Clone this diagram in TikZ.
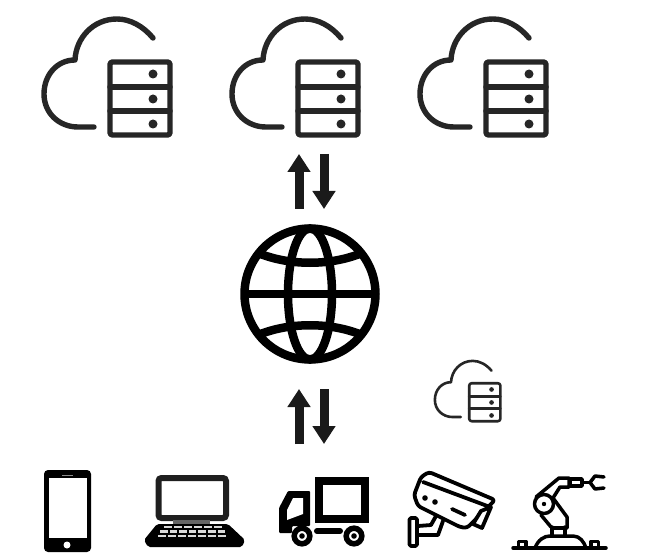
\documentclass[tikz,border=0pt]{standalone}
\usetikzlibrary{arrows.meta}
\definecolor{iconink}{HTML}{262626}
\definecolor{arrowink}{HTML}{1A1A1A}
\tikzset{
  thinicon/.style={draw=black,line join=round,line cap=round},
  arrowup/.style={line width=9pt,draw=arrowink,-{Triangle[length=18pt,width=22pt]}},
  globeline/.style={draw=black,line width=8.5pt},
  keycap/.style={fill=black!15,draw=none}
}
\newcommand{\cloudicon}[4]{%
  \begin{scope}[shift={(#1,#2)},xscale=#3,yscale=#3,
      every path/.append style={draw=iconink,line width=#4,line cap=round,line join=round}]
    \draw (153,38) .. controls (143,26) and (130,19) .. (117,19)
       .. controls (93,19) and (76,38) .. (75,60)
       .. controls (57,60) and (44,75) .. (44,94)
       .. controls (44,113) and (59,127) .. (78,127) -- (94,127);
    \draw[rounded corners=2.5] (110,62) rectangle (170,135);
    \draw (110,87) -- (170,87);
    \draw (110,111) -- (170,111);
    \fill[iconink,draw=none] (153,74) circle (4.5);
    \fill[iconink,draw=none] (153,99) circle (4.5);
    \fill[iconink,draw=none] (153,124) circle (4.5);
  \end{scope}}
\newcommand{\arrowpair}[1]{%
  \begin{scope}[shift={(0,#1)}]
    \coordinate (ua) at (299,209); \coordinate (ub) at (299,154);
    \coordinate (da) at (324,154); \coordinate (db) at (324,209);
    \draw[arrowup] (ua) -- (ub);
    \draw[arrowup] (da) -- (db);
  \end{scope}}
\begin{document}
\begin{tikzpicture}[x=1pt,y=-1pt]
\useasboundingbox[fill=white] (0,0) rectangle (646,559);
% clouds
\cloudicon{0}{0}{1}{5.4pt}
\cloudicon{188}{0}{1}{5.4pt}
\cloudicon{376}{0}{1}{5.4pt}
\cloudicon{412}{351}{0.52}{2.6pt}
% arrows
\arrowpair{0}
\arrowpair{235}
% globe
\begin{scope}[shift={(310,294)}]
  \draw[globeline] (0,0) circle (65.5);
  \draw[globeline] (-65,0) -- (65,0);
  \draw[globeline] (0,0) ellipse (22 and 65.5);
  \draw[globeline] (-52,-41) .. controls (-20,-28) and (20,-28) .. (52,-41);
  \draw[globeline] (-52,41) .. controls (-20,28) and (20,28) .. (52,41);
\end{scope}
% phone
\fill[black,rounded corners=4] (44,470) rectangle (91,552);
\fill[white] (48.5,478) rectangle (87,538);
\fill[white] (67,545) circle (3.5);
\draw[black!45,line width=1pt] (62,475) -- (73,475);
% laptop
\draw[black!88,line width=6pt,rounded corners=3,fill=white] (158.5,478) rectangle (226,518);
\fill[black!60] (173,520) rectangle (210,524);
\fill[black,rounded corners=2] (157,524) -- (228,524) -- (245,540) -- (242,547) -- (148,547) -- (144,540) -- cycle;
\foreach \i in {0,...,5} \fill[keycap] ({164+\i*10},526) rectangle ++(7.5,2.4);
\foreach \i in {0,...,6} \fill[keycap] ({160+\i*9.6},530.3) rectangle ++(7.5,2.4);
\foreach \i in {0,...,6} \fill[keycap] ({158+\i*10},534.6) rectangle ++(8,2.6);
% truck
\draw[black,line width=8pt,miter limit=2] (319,481) rectangle (364.5,518.5);
\fill[black,rounded corners=1] (310,491) -- (288,491) -- (279,508) -- (279,533) -- (292,533) -- (292,526) -- (310,526) -- cycle;
\fill[white] (303,498) -- (293,498) -- (287,510) -- (287,520) -- (303,514) -- cycle;
\draw[black,line width=5.5pt,fill=white] (302,536) circle (7.8);
\fill[black] (302,536) circle (2.8);
\draw[black,line width=5.5pt,fill=white] (354,536) circle (7.8);
\fill[black] (354,536) circle (2.8);
\draw[black,line width=6pt,line cap=round] (317,531) -- (340,531);
% camera
\begin{scope}[thinicon,line width=3.8pt]
  \draw[fill=white,rounded corners=3] (429,472) -- (495,500) -- (487,508) -- (467,528) -- (460,527) -- (418,506) -- (414,495) -- (421,477) -- cycle;
  \draw (423,482) -- (490,507);
  \draw[fill=white] (481,511) -- (491,507) -- (482,528) -- (473,524) -- cycle;
  \draw (452,509) -- (465,515);
  \fill[black,draw=none] (425,498) circle (2.8);
  \fill[black,draw=none] (435,502) circle (2.8);
  \draw[rounded corners=1.5,fill=white] (409.5,518) rectangle (417,546);
  \draw (418,526) -- (431,525) -- (436,516);
  \draw (418,535) -- (438,535) -- (443,521);
\end{scope}
% robot
\begin{scope}[thinicon,line width=3.5pt]
  \draw (513,548) -- (606,548);
  \draw (535,548) .. controls (538,540) and (544,536) .. (550,536) -- (573,536) .. controls (580,536) and (584,542) .. (586,548);
  \draw (518.5,548) -- (518.5,541.5) -- (526,541.5) -- (526,548);
  \draw (591,548) -- (591,541.5) -- (598.5,541.5) -- (598.5,548);
  \draw (552,536) -- (552,527) (565,536) -- (565,527) (552,528) -- (565,528);
  \draw (553,498) -- (567,517) -- (567,528);
  \draw (541,515) -- (551,527);
  \draw (536,497) -- (559,478) -- (569,478) -- (569,487) -- (560,487) -- (553,498);
  \draw[fill=white] (544,504) circle (9.5);
  \fill[black,draw=none] (544,504) circle (2.2);
  \draw (570,479) -- (582,479) -- (582,486) -- (570,486) -- cycle;
  \draw (582,482.5) -- (589,482.5);
  \draw (604,477) -- (595,476) -- (590,482.5) -- (595,489) -- (604,488);
\end{scope}
\end{tikzpicture}
\end{document}
